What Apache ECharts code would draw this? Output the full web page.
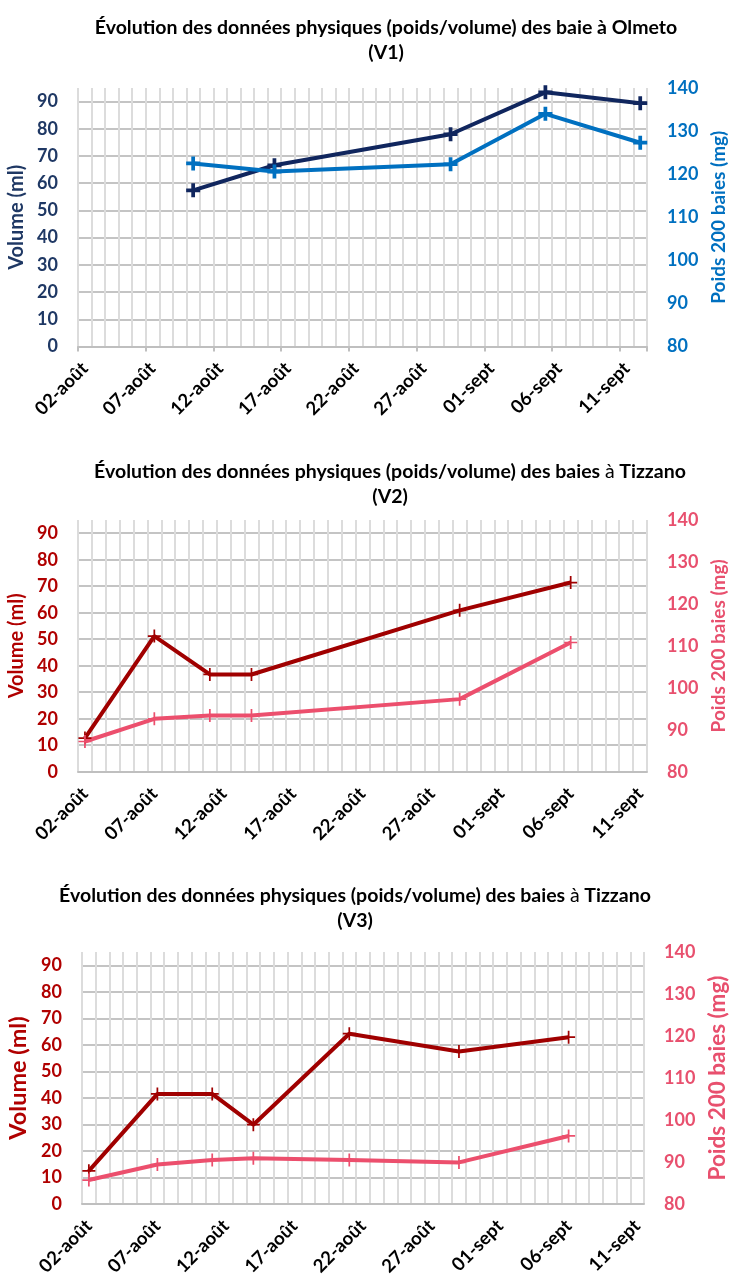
<!DOCTYPE html>
<html>
<head>
<meta charset="utf-8">
<script src="https://cdn.jsdelivr.net/npm/echarts@6/dist/echarts.min.js"></script>
<style>
  html, body { margin: 0; padding: 0; background: #fff; }
  #chart { width: 729px; height: 1280px; }
</style>
</head>
<body>
<div id="chart"></div>
<script>
// un jour par catégorie sur l'axe des x (à partir du 02-août)
function makeDays(n) {
  const out = []
  for (let i = 0; i < n; i++) {
    const d = new Date(2021, 7, 2 + i)
    const mois = d.getMonth() === 7 ? 'août' : 'sept'
    out.push(String(d.getDate()).padStart(2, '0') + '-' + mois)
  }
  return out
}

const daysV1 = makeDays(42) // 02-août -> 12-sept
const daysV2 = makeDays(41) // 02-août -> 11-sept
const daysV3 = makeDays(41)

// V1 - Olmeto
const datesV1 = ['10-août', '16-août', '29-août', '05-sept', '12-sept']
const volumeV1 = [57.4, 66.6, 78.0, 93.4, 89.4]
const poidsV1 = [122.5, 120.6, 122.3, 134.0, 127.3]

// V2 - Tizzano
const datesV2 = ['02-août', '07-août', '11-août', '14-août', '29-août', '06-sept']
const volumeV2 = [12.7, 51.2, 36.7, 36.7, 60.9, 71.4]
const poidsV2 = [87.2, 92.6, 93.4, 93.4, 97.3, 110.8]

// V3 - Tizzano
const datesV3 = ['02-août', '07-août', '11-août', '14-août', '21-août', '29-août', '06-sept']
const volumeV3 = [12.5, 41.5, 41.5, 29.9, 64.2, 57.5, 62.9]
const poidsV3 = [85.7, 89.4, 90.5, 90.9, 90.5, 89.9, 96.2]

const FONT = 'Lato'
const plusBold = 'path://M4.4,0H7.6V4.4H12V7.6H7.6V12H4.4V7.6H0V4.4H4.4Z'
const plusThin = 'path://M5.2,0H6.8V5.2H12V6.8H6.8V12H5.2V6.8H0V5.2H5.2Z'

const panels = [
  {
    title: 'Évolution des données physiques (poids/volume) des baie à Olmeto\n(V1)',
    titleX: 386, titleY: 15,
    grid: { left: 78, top: 88, width: 569, height: 258.5, outerBoundsMode: 'none' },
    days: daysV1, dates: datesV1, volume: volumeV1, poids: poidsV1,
    volColor: '#10265e', volLabel: '#1f3864', poidsColor: '#0070c0', poidsLabel: '#0070c0',
    symbol: plusBold, symbolSize: 14, ticks: true,
    leftSize: 20, rightSize: 19, leftGap: 38, rightGap: 62
  },
  {
    title: 'Évolution des données physiques (poids/volume) des baies {n|à} Tizzano\n(V2)',
    titleX: 390, titleY: 459,
    grid: { left: 78, top: 520, width: 569, height: 251.7, outerBoundsMode: 'none' },
    days: daysV2, dates: datesV2, volume: volumeV2, poids: poidsV2,
    volColor: '#a00000', volLabel: '#b00000', poidsColor: '#ec4f6d', poidsLabel: '#e8506e',
    symbol: plusThin, symbolSize: 13, ticks: false,
    leftSize: 20, rightSize: 19, leftGap: 38, rightGap: 62
  },
  {
    title: 'Évolution des données physiques (poids/volume) des baies {n|à} Tizzano\n(V3)',
    titleX: 355, titleY: 883,
    grid: { left: 82, top: 952, width: 562, height: 252, outerBoundsMode: 'none' },
    days: daysV3, dates: datesV3, volume: volumeV3, poids: poidsV3,
    volColor: '#a00000', volLabel: '#b00000', poidsColor: '#ec4f6d', poidsLabel: '#e8506e',
    symbol: plusThin, symbolSize: 13, ticks: false,
    leftSize: 23.5, rightSize: 22.5, leftGap: 40, rightGap: 60
  }
]

const chart = echarts.init(document.getElementById('chart'))

const title = []
const grid = []
const xAxis = []
const yAxis = []
const series = []

panels.forEach((p, i) => {
  title.push({
    text: p.title,
    left: p.titleX,
    top: p.titleY,
    padding: 0,
    textAlign: 'center',
    textStyle: {
      fontFamily: FONT, fontWeight: 'bold', fontSize: 19.5, color: '#000', lineHeight: 25,
      rich: { n: { fontFamily: FONT, fontWeight: 'normal', fontSize: 19.5, color: '#000', lineHeight: 25 } }
    }
  })
  grid.push(p.grid)
  xAxis.push({
    type: 'category',
    gridIndex: i,
    data: p.days,
    boundaryGap: true,
    axisLine: { lineStyle: { color: '#bfbfbf', width: 2 } },
    axisTick: { show: p.ticks, interval: 4, length: 5, lineStyle: { color: '#bfbfbf', width: 2 } },
    axisLabel: { interval: 4, rotate: 45, margin: 19, color: '#000', fontFamily: FONT, fontWeight: 'bold', fontSize: 18.5 },
    splitLine: { show: true, interval: 0, lineStyle: { color: '#dcdcdc', width: 2 } }
  })
  yAxis.push({
    type: 'value',
    gridIndex: i,
    position: 'left',
    min: 0, max: 95, interval: 10,
    name: 'Volume (ml)',
    nameLocation: 'middle',
    nameGap: p.leftGap,
    nameTextStyle: { color: p.volLabel, fontFamily: FONT, fontWeight: 'bold', fontSize: p.leftSize },
    axisLine: { show: false },
    axisTick: { show: false },
    axisLabel: { color: p.volLabel, fontFamily: FONT, fontWeight: 'bold', fontSize: 18, margin: 20, showMaxLabel: false },
    splitLine: { show: true, showMaxLine: false, lineStyle: { color: '#c4c4c4', width: 2 } }
  })
  yAxis.push({
    type: 'value',
    gridIndex: i,
    position: 'right',
    min: 80, max: 140, interval: 10,
    name: 'Poids 200 baies (mg)',
    nameLocation: 'middle',
    nameGap: p.rightGap,
    nameTextStyle: { color: p.poidsLabel, fontFamily: FONT, fontWeight: 'bold', fontSize: p.rightSize },
    axisLine: { show: false },
    axisTick: { show: false },
    axisLabel: { color: p.poidsLabel, fontFamily: FONT, fontWeight: 'bold', fontSize: 18, margin: 20 },
    splitLine: { show: false }
  })
  series.push({
    name: 'Volume',
    type: 'line',
    xAxisIndex: i,
    yAxisIndex: i * 2,
    data: p.dates.map((d, k) => [d, p.volume[k]]),
    symbol: p.symbol,
    symbolSize: p.symbolSize,
    showAllSymbol: true,
    lineStyle: { color: p.volColor, width: 4 },
    itemStyle: { color: p.volColor }
  })
  series.push({
    name: 'Poids',
    type: 'line',
    xAxisIndex: i,
    yAxisIndex: i * 2 + 1,
    data: p.dates.map((d, k) => [d, p.poids[k]]),
    symbol: p.symbol,
    symbolSize: p.symbolSize,
    showAllSymbol: true,
    lineStyle: { color: p.poidsColor, width: 4 },
    itemStyle: { color: p.poidsColor }
  })
})

chart.setOption({
  animation: false,
  title, grid, xAxis, yAxis, series
})
</script>
</body>
</html>
